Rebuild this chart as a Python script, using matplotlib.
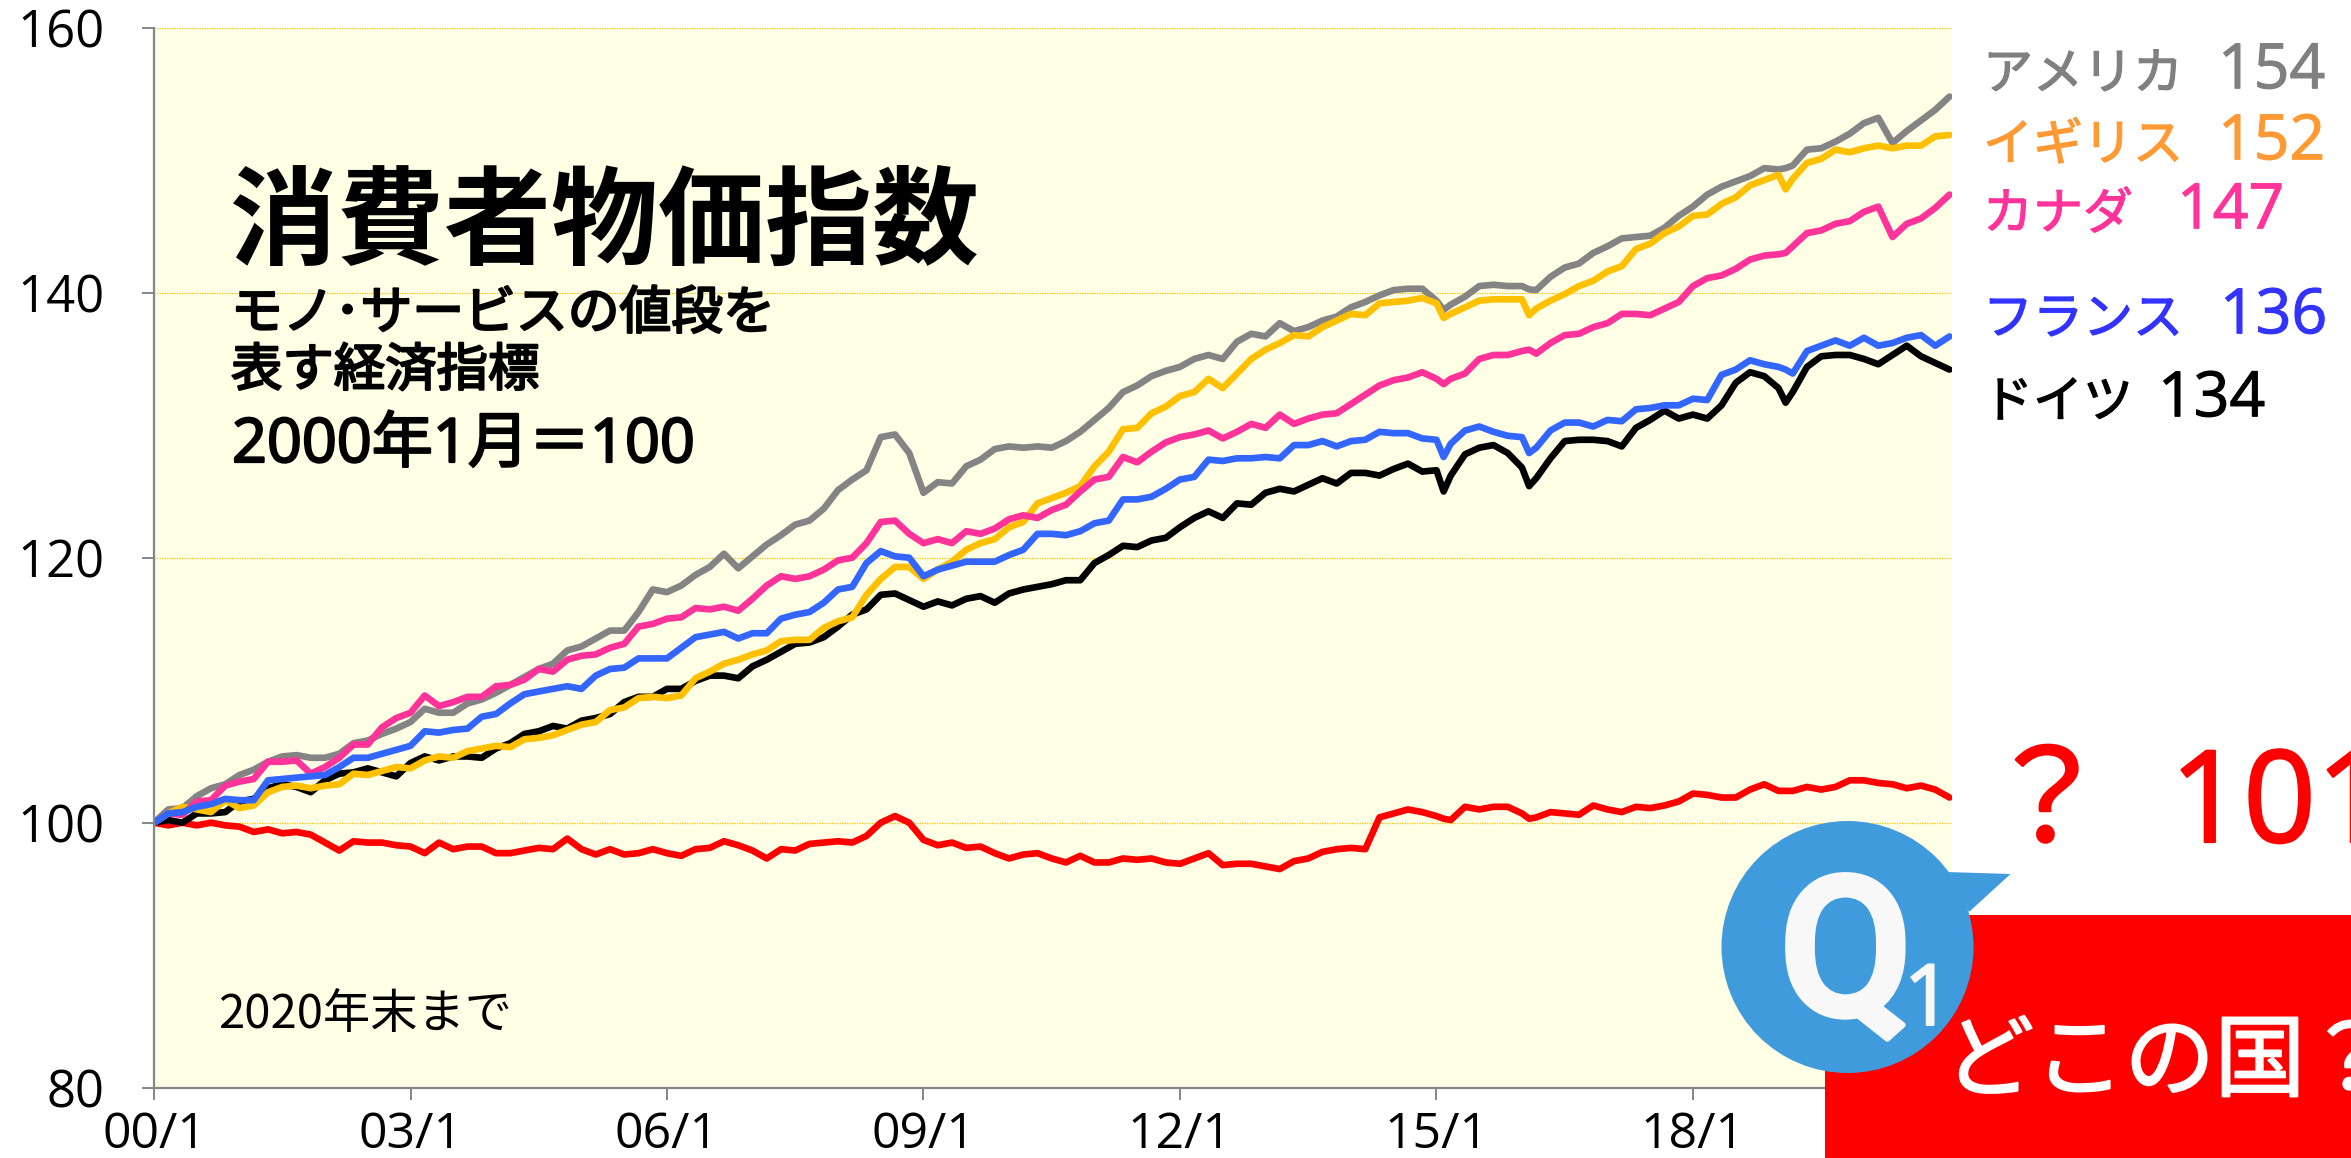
import matplotlib
matplotlib.use("Agg")
import matplotlib.pyplot as plt
import matplotlib.patheffects as pe
from matplotlib.patches import Circle, Polygon, Rectangle

plt.rcParams['font.family'] = ['Noto Sans CJK JP', 'DejaVu Sans']
DIGITS = ['Open Sans', 'Noto Sans CJK JP']

months = sorted(list(range(0, 253, 2)) + [181, 193, 229])

usa = [100,101,101.1,102,102.6,102.9,103.6,104,104.6,105,105.1,104.9,104.9,105.2,106,106.2,106.7,107.1,107.6,108.6,108.3,108.3,109,109.3,109.8,110.4,111,111.6,112,113,113.3,113.9,114.5,114.5,115.9,117.6,117.4,
       117.9,118.7,119.3,120.3,119.2,120.1,121,121.7,122.5,122.8,123.7,125.1,125.9,126.6,129.1,129.3,127.9,124.9,125.7,125.6,126.9,127.4,128.2,128.4,128.3,128.4,128.3,128.8,129.5,130.4,131.3,132.5,133,133.7,
       134.1,134.4,135,135.3,135,136.3,136.9,136.7,137.7,137.1,137.4,137.9,138.2,138.9,139.3,139.8,140.2,140.3,140.3,139.4,138.7,139.1,139.7,140.5,140.6,140.5,140.5,140.25,140.2,141.2,141.9,
       142.2,143,143.5,144.1,144.2,144.3,144.9,145.8,146.5,147.4,148,148.4,148.8,149.4,149.3,149.4,149.6,150.8,150.9,151.4,152,152.8,153.2,151.3,152.2,153,153.8,154.8]

uk = [100,100.7,101.2,101,100.8,101.7,101.1,101.3,102.3,102.7,102.8,102.6,102.8,102.9,103.7,103.6,103.9,104.2,104.1,104.7,105,104.9,105.4,105.6,105.8,105.7,106.3,106.4,106.6,107,107.4,107.6,108.5,108.7,109.4,109.5,109.4,
      109.6,110.9,111.4,112,112.3,112.7,113,113.7,113.8,113.8,114.7,115.2,115.5,117.2,118.4,119.3,119.3,118.4,119.1,119.7,120.6,121.1,121.4,122.3,122.7,124.1,124.5,124.9,125.4,126.9,128,129.7,129.8,130.9,
      131.4,132.2,132.5,133.5,132.8,133.9,135,135.7,136.2,136.8,136.7,137.4,137.9,138.4,138.3,139.2,139.3,139.4,139.6,139.2,138.1,138.4,138.9,139.4,139.5,139.5,139.5,138.3,138.8,139.4,139.9,
      140.5,140.9,141.6,142,143.3,143.7,144.5,145,145.8,145.9,146.7,147.2,148.1,148.5,148.9,147.8,148.6,149.8,150.1,150.8,150.6,150.9,151.1,150.9,151.1,151.1,151.8,151.9]

canada = [100,100.7,100.6,101.6,101.7,102.8,103.1,103.3,104.6,104.6,104.7,103.7,104.2,104.9,105.9,105.9,107.2,107.9,108.3,109.6,108.8,109.1,109.5,109.5,110.3,110.4,110.8,111.6,111.4,112.3,112.6,112.7,113.2,113.5,114.8,115,115.4,
          115.5,116.2,116.1,116.3,116,116.9,117.9,118.6,118.4,118.6,119.1,119.8,120,121.1,122.7,122.8,121.8,121.1,121.4,121.1,122,121.8,122.2,122.9,123.2,123,123.6,124,125,125.9,126.1,127.6,127.2,128,
          128.7,129.1,129.3,129.6,129,129.5,130.1,129.8,130.8,130.1,130.5,130.8,130.9,131.6,132.3,133,133.4,133.6,134,133.5,133.1,133.5,133.9,135,135.3,135.3,135.6,135.7,135.4,136.2,136.8,
          136.9,137.4,137.7,138.4,138.4,138.3,138.8,139.3,140.5,141.1,141.3,141.8,142.5,142.8,142.9,143,143.5,144.5,144.7,145.2,145.4,146.1,146.5,144.2,145.2,145.6,146.4,147.4]

france = [100,100.7,100.8,101.2,101.4,101.8,101.7,101.7,103.2,103.3,103.4,103.5,103.6,104.2,104.9,104.9,105.2,105.5,105.8,106.9,106.8,107,107.1,108,108.2,109,109.7,109.9,110.1,110.3,110.1,111.1,111.6,111.7,112.4,112.4,112.4,
          113.2,114,114.2,114.4,113.9,114.3,114.3,115.4,115.7,115.9,116.6,117.6,117.8,119.6,120.5,120.1,120,118.6,119.1,119.4,119.7,119.7,119.7,120.2,120.6,121.8,121.8,121.7,122,122.6,122.8,124.4,124.4,124.6,
          125.2,125.9,126.1,127.4,127.3,127.5,127.5,127.6,127.5,128.5,128.5,128.8,128.4,128.8,128.9,129.5,129.4,129.4,129,128.9,127.6,128.6,129.6,129.9,129.5,129.2,129.1,127.9,128.3,129.6,130.2,
          130.2,129.9,130.4,130.3,131.2,131.3,131.5,131.5,132,131.9,133.8,134.2,134.9,134.6,134.4,134.2,133.9,135.6,136,136.4,136,136.6,136,136.2,136.6,136.8,136,136.7]

germany = [100,100.2,100,100.7,100.7,100.8,101.6,101.8,102.6,102.9,102.7,102.3,103.2,103.7,103.8,104.1,103.8,103.5,104.5,105,104.7,105,105,104.9,105.6,106,106.7,106.9,107.3,107.1,107.7,107.9,108.2,109.1,109.5,109.5,110.1,
           110.1,110.7,111.1,111.1,110.9,111.8,112.3,112.9,113.5,113.6,114,114.8,115.7,116.1,117.2,117.3,116.8,116.3,116.7,116.4,116.9,117.1,116.6,117.3,117.6,117.8,118,118.3,118.3,119.6,120.2,120.9,120.8,121.3,
           121.5,122.3,123,123.5,123,124.1,124,124.9,125.2,125,125.5,126,125.6,126.4,126.4,126.2,126.7,127.1,126.5,126.6,125,126.2,127.8,128.3,128.5,127.9,126.8,125.4,126,127.5,128.8,
           128.9,128.9,128.8,128.4,129.8,130.4,131.1,130.5,130.8,130.5,131.5,133.2,134,133.7,132.8,131.7,132.5,134.4,135.2,135.3,135.3,135,134.6,135.3,136,135.2,134.7,134.2]

country_q = [100,99.8,100,99.8,100,99.8,99.7,99.3,99.5,99.2,99.3,99.1,98.5,97.9,98.6,98.5,98.5,98.3,98.2,97.7,98.5,98,98.2,98.2,97.7,97.7,97.9,98.1,98,98.8,98,97.6,98,97.6,97.7,98,97.7,
             97.5,98,98.1,98.6,98.3,97.9,97.3,98,97.9,98.4,98.5,98.6,98.5,99,100,100.5,100,98.7,98.3,98.5,98.1,98.2,97.7,97.3,97.6,97.7,97.3,97,97.5,97,97,97.3,97.2,97.3,
             97,96.9,97.3,97.7,96.8,96.9,96.9,96.7,96.5,97.1,97.3,97.8,98,98.1,98,100.4,100.7,101,100.8,100.5,100.3,100.2,101.2,101,101.2,101.2,100.7,100.3,100.4,100.8,100.7,
             100.6,101.3,101,100.8,101.2,101.1,101.3,101.6,102.2,102.1,101.9,101.9,102.5,102.9,102.4,102.4,102.4,102.7,102.5,102.7,103.2,103.2,103,102.9,102.6,102.8,102.5,101.9]

xtick_months = [0, 36, 72, 108, 144, 180, 216]
xtick_labels = ['00/1', '03/1', '06/1', '09/1', '12/1', '15/1', '18/1']
yticks = [80, 100, 120, 140, 160]

W, H = 2351, 1158
fig = plt.figure(figsize=(W/100, H/100), dpi=100, facecolor='white')

L, R, T, B = 154, 1952, 27.7, 1087.7
ax = fig.add_axes([L/W, 1-B/H, (R-L)/W, (B-T)/H], facecolor='#FFFFE5')
ax.set_xlim(0, (R-L)/7.125)
ax.set_ylim(80, 160)

ax.yaxis.grid(True, color='#FFC000', lw=0.9, ls=(0, (1, 1)))
ax.set_axisbelow(True)

series_styles = [(country_q, '#FF0000'), (germany, '#000000'), (usa, '#848484'),
                 (uk, '#FFC000'), (canada, '#FF3399'), (france, '#3366FF')]
for vals, col in series_styles:
    ax.plot(months, vals, color=col, lw=4.8, solid_joinstyle='round', solid_capstyle='round')

for s in ['top', 'right']:
    ax.spines[s].set_visible(False)
for s in ['left', 'bottom']:
    ax.spines[s].set_color('#868686')
    ax.spines[s].set_linewidth(1.6)
ax.set_xticks(xtick_months)
ax.set_xticklabels(xtick_labels, family=DIGITS)
ax.set_yticks(yticks)
ax.set_yticklabels([str(v) for v in yticks], family=DIGITS)
ax.tick_params(axis='x', length=8.6, width=1.4, color='#868686', labelsize=36, pad=8)
ax.tick_params(axis='y', length=8.6, width=1.4, color='#868686', labelsize=36.5, pad=27)


def heavy(col, w=0.9):
    return [pe.withStroke(linewidth=w, foreground=col)]


ov = fig.add_axes([0, 0, 1, 1], facecolor='none')
ov.set_xlim(0, W)
ov.set_ylim(H, 0)
ov.axis('off')

# title block
ov.text(230, 225, '消費者物価指数', fontsize=77, fontweight='bold', va='center', ha='left', color='black')
ov.text(231, 314, 'モノ･サービスの値段を', fontsize=37.3, va='center', ha='left', color='black', path_effects=heavy('black', 1.6))
ov.text(231, 371, '表す経済指標', fontsize=37, va='center', ha='left', color='black', path_effects=heavy('black', 1.6))
ov.text(232, 446, '2000年1月＝100', fontsize=44, family=DIGITS, va='center', ha='left', color='black', path_effects=heavy('black', 1.6))
ov.text(218, 1015, '2020年末まで', fontsize=34, va='center', ha='left', color='black')

# direct labels
names = ['アメリカ', 'イギリス', 'カナダ', 'フランス', 'ドイツ']
nums = ['154', '152', '147', '136', '134']
cols = ['#808080', '#FF9933', '#FF3399', '#3333FF', '#000000']
ys = [75, 146, 215, 320, 403]
numx = [2218, 2218, 2177, 2220, 2158]
for n, v, c, y, x in zip(names, nums, cols, ys, numx):
    ov.text(1983, y, n, fontsize=36, color=c, va='center', ha='left', path_effects=heavy(c))
    ov.text(x, y - 3, v, fontsize=45, family=DIGITS, color=c, va='center', ha='left', path_effects=heavy(c, 0.8))

# answer block
ov.text(2047, 842, '？', fontsize=92, color='#FF0000', va='baseline', ha='center', path_effects=heavy('#FF0000', 1.6))
ov.text(2170, 842, '101', fontsize=92, family=DIGITS, color='#FF0000', va='baseline', ha='left', path_effects=heavy('#FF0000', 1.6))
ov.add_patch(Rectangle((1825, 915), W-1825, H-915, facecolor='#FF0000', edgecolor='none', zorder=2))
ov.text(1944, 1064, 'どこの国？', fontsize=65, color='white', va='center', ha='left', zorder=3, path_effects=heavy('white', 1.4))
ov.add_patch(Polygon([(1947, 872), (2010.5, 874), (1969, 912)], closed=True, facecolor='#3F9BDC', edgecolor='none', zorder=4))
ov.add_patch(Circle((1847.5, 947), 126, facecolor='#3F9BDC', edgecolor='none', zorder=4))
ov.text(1846, 1015, 'Q', fontsize=140, family='Roboto', fontweight='medium', color='#F8F8F8', va='baseline', ha='center', zorder=5, path_effects=heavy('#F8F8F8', 4))
ov.text(1928, 1025, '1', fontsize=61, family=DIGITS, color='#F8F8F8', va='baseline', ha='center', zorder=5, path_effects=heavy('#F8F8F8', 1.5))

fig.savefig('out.png', dpi=100, facecolor='white')
